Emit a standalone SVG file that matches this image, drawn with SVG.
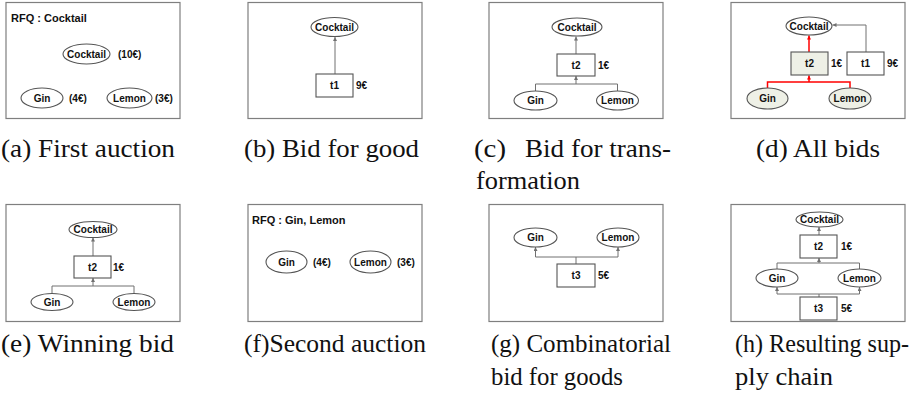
<svg xmlns="http://www.w3.org/2000/svg" width="917" height="397" viewBox="0 0 917 397">
<style>
.panel{fill:#fff;stroke:#7f7f7f;stroke-width:1.2}
.node{fill:#fff;stroke:#555;stroke-width:1.1}
.hl{fill:#eef0e6}
.lbl{font-family:"Liberation Sans",Arial,sans-serif;font-weight:bold;font-size:10px;fill:#111}
.mid{text-anchor:middle}
.rfq{font-family:"Liberation Sans",Arial,sans-serif;font-weight:bold;font-size:11px;fill:#111}
.cap{font-family:"Liberation Serif","Times New Roman",serif;font-size:25px;fill:#111}
.ln{fill:none;stroke:#707070;stroke-width:1}
.red{fill:none;stroke:#ff0000;stroke-width:1.5}
</style>
<defs>
<marker id="ag" markerUnits="userSpaceOnUse" markerWidth="6" markerHeight="6" refX="4" refY="2" orient="auto"><path d="M0,0 L4,2 L0,4 z" fill="#707070"/></marker>
<marker id="ar" markerUnits="userSpaceOnUse" markerWidth="6" markerHeight="6" refX="4" refY="2" orient="auto"><path d="M0,0 L4,2 L0,4 z" fill="#ff0000"/></marker>
</defs>
<rect width="917" height="397" fill="#fff"/>

<!-- panel frames -->
<g id="frames">
<rect class="panel" x="6" y="2.5" width="174" height="116"/>
<rect class="panel" x="248" y="2.5" width="174" height="116"/>
<rect class="panel" x="489" y="2.5" width="174" height="116"/>
<rect class="panel" x="731" y="2.5" width="174" height="116"/>
<rect class="panel" x="6" y="204.5" width="174" height="117"/>
<rect class="panel" x="248" y="204.5" width="174" height="117"/>
<rect class="panel" x="489" y="204.5" width="174" height="117"/>
<rect class="panel" x="731" y="204.5" width="174" height="117"/>
</g>

<!-- connectors -->
<g id="connectors">
<path class="ln" d="M335,74 V37" marker-end="url(#ag)"/>
<path class="ln" d="M576,54 V36.5" marker-end="url(#ag)"/>
<path class="ln" d="M535.5,91 V84 H617.5 V91"/>
<path class="ln" d="M576,84 V76" marker-end="url(#ag)"/>
<path class="ln" d="M866,52 V25 H832.5" marker-end="url(#ag)"/>
<path class="red" d="M809,52 V35.5" marker-end="url(#ar)"/>
<path class="red" d="M767.5,88 V82 H850 V88"/>
<path class="red" d="M809,82 V75.5" marker-end="url(#ar)"/>
<path class="ln" d="M93,256 V237.5" marker-end="url(#ag)"/>
<path class="ln" d="M52,293.5 V286 H134 V293.5"/>
<path class="ln" d="M93,286 V278" marker-end="url(#ag)"/>
<path class="ln" d="M576,264 V257"/>
<path class="ln" d="M535.5,257 H618"/>
<path class="ln" d="M535.5,257 V247" marker-end="url(#ag)"/>
<path class="ln" d="M618,257 V247" marker-end="url(#ag)"/>
<path class="ln" d="M819,235 V227" marker-end="url(#ag)"/>
<path class="ln" d="M777,269 V263 H859.5 V269"/>
<path class="ln" d="M819,263 V258" marker-end="url(#ag)"/>
<path class="ln" d="M819,297 V294"/>
<path class="ln" d="M777,294 H859.5"/>
<path class="ln" d="M777,294 V287" marker-end="url(#ag)"/>
<path class="ln" d="M859.5,294 V287" marker-end="url(#ag)"/>
</g>

<!-- (a) -->
<g id="a-rfq"><text class="rfq" x="11" y="22">RFQ : Cocktail</text></g>
<g id="a-cocktail"><ellipse class="node" cx="86.5" cy="54" rx="23.5" ry="10"/><text class="lbl mid" x="86.5" y="57.5">Cocktail</text><text class="lbl" x="118" y="57.5">(10€)</text></g>
<g id="a-gin"><ellipse class="node" cx="42" cy="98" rx="21" ry="10"/><text class="lbl mid" x="42" y="101.5">Gin</text><text class="lbl" x="69" y="101.5">(4€)</text></g>
<g id="a-lemon"><ellipse class="node" cx="129.5" cy="98" rx="22.5" ry="10"/><text class="lbl mid" x="129.5" y="101.5">Lemon</text><text class="lbl" x="155" y="101.5">(3€)</text></g>

<!-- (b) -->
<g id="b-cocktail"><ellipse class="node" cx="334.5" cy="27" rx="23.5" ry="9.5"/><text class="lbl mid" x="334.5" y="30.5">Cocktail</text></g>
<g id="b-t1"><rect class="node" x="316" y="74" width="37" height="23"/><text class="lbl mid" x="334.5" y="89">t1</text><text class="lbl" x="356" y="89">9€</text></g>

<!-- (c) -->
<g id="c-cocktail"><ellipse class="node" cx="577" cy="27" rx="25" ry="9"/><text class="lbl mid" x="577" y="30.5">Cocktail</text></g>
<g id="c-t2"><rect class="node" x="557" y="54" width="38" height="22"/><text class="lbl mid" x="576" y="68.5">t2</text><text class="lbl" x="598" y="68.5">1€</text></g>
<g id="c-gin"><ellipse class="node" cx="535.5" cy="100.5" rx="21.5" ry="9.5"/><text class="lbl mid" x="535.5" y="104">Gin</text></g>
<g id="c-lemon"><ellipse class="node" cx="617.5" cy="100.5" rx="21" ry="9.5"/><text class="lbl mid" x="617.5" y="104">Lemon</text></g>

<!-- (d) -->
<g id="d-cocktail"><ellipse class="node" cx="809" cy="26" rx="23" ry="9"/><text class="lbl mid" x="809" y="29.5">Cocktail</text></g>
<g id="d-t2"><rect class="node hl" x="791" y="52" width="37" height="23"/><text class="lbl mid" x="809.5" y="67">t2</text><text class="lbl" x="831" y="67">1€</text></g>
<g id="d-t1"><rect class="node" x="847" y="52" width="37" height="23"/><text class="lbl mid" x="865.5" y="67">t1</text><text class="lbl" x="887" y="67">9€</text></g>
<g id="d-gin"><ellipse class="node hl" cx="767.5" cy="98.5" rx="20.5" ry="10.5"/><text class="lbl mid" x="767.5" y="102">Gin</text></g>
<g id="d-lemon"><ellipse class="node hl" cx="850" cy="98.5" rx="21" ry="10.5"/><text class="lbl mid" x="850" y="102">Lemon</text></g>

<!-- (e) -->
<g id="e-cocktail"><ellipse class="node" cx="93" cy="229.5" rx="24" ry="8"/><text class="lbl mid" x="93" y="233">Cocktail</text></g>
<g id="e-t2"><rect class="node" x="74" y="256" width="37" height="22"/><text class="lbl mid" x="92.5" y="270.5">t2</text><text class="lbl" x="113" y="270.5">1€</text></g>
<g id="e-gin"><ellipse class="node" cx="52" cy="302" rx="21" ry="8.5"/><text class="lbl mid" x="52" y="305.5">Gin</text></g>
<g id="e-lemon"><ellipse class="node" cx="134" cy="302" rx="21" ry="8.5"/><text class="lbl mid" x="134" y="305.5">Lemon</text></g>

<!-- (f) -->
<g id="f-rfq"><text class="rfq" x="252" y="224">RFQ : Gin, Lemon</text></g>
<g id="f-gin"><ellipse class="node" cx="286.5" cy="262" rx="20.5" ry="11"/><text class="lbl mid" x="286.5" y="265.5">Gin</text><text class="lbl" x="313" y="265.5">(4€)</text></g>
<g id="f-lemon"><ellipse class="node" cx="370.5" cy="262" rx="20.5" ry="11"/><text class="lbl mid" x="370.5" y="265.5">Lemon</text><text class="lbl" x="397" y="265.5">(3€)</text></g>

<!-- (g) -->
<g id="g-gin"><ellipse class="node" cx="535.5" cy="237.5" rx="21.5" ry="9.5"/><text class="lbl mid" x="535.5" y="241">Gin</text></g>
<g id="g-lemon"><ellipse class="node" cx="618" cy="237.5" rx="21" ry="9.5"/><text class="lbl mid" x="618" y="241">Lemon</text></g>
<g id="g-t3"><rect class="node" x="557" y="264" width="38" height="23"/><text class="lbl mid" x="576" y="279">t3</text><text class="lbl" x="598" y="279">5€</text></g>

<!-- (h) -->
<g id="h-cocktail"><ellipse class="node" cx="819.5" cy="219.5" rx="23.5" ry="7.5"/><text class="lbl mid" x="819.5" y="223">Cocktail</text></g>
<g id="h-t2"><rect class="node" x="800" y="235" width="37" height="23"/><text class="lbl mid" x="818.5" y="250">t2</text><text class="lbl" x="841" y="250">1€</text></g>
<g id="h-gin"><ellipse class="node" cx="777" cy="278" rx="21" ry="9"/><text class="lbl mid" x="777" y="281.5">Gin</text></g>
<g id="h-lemon"><ellipse class="node" cx="859.5" cy="278" rx="21.5" ry="9"/><text class="lbl mid" x="859.5" y="281.5">Lemon</text></g>
<g id="h-t3"><rect class="node" x="800" y="297" width="37" height="23"/><text class="lbl mid" x="818.5" y="312">t3</text><text class="lbl" x="841" y="312">5€</text></g>

<!-- captions -->
<g id="captions">
<text class="cap" x="1" y="157" textLength="174" lengthAdjust="spacingAndGlyphs">(a) First auction</text>
<text class="cap" x="244" y="157" textLength="175" lengthAdjust="spacingAndGlyphs">(b) Bid for good</text>
<text class="cap" x="474" y="157" textLength="32" lengthAdjust="spacingAndGlyphs">(c)</text>
<text class="cap" x="525" y="157" textLength="146" lengthAdjust="spacingAndGlyphs">Bid for trans-</text>
<text class="cap" x="476" y="189" textLength="104" lengthAdjust="spacingAndGlyphs">formation</text>
<text class="cap" x="756" y="157" textLength="124" lengthAdjust="spacingAndGlyphs">(d) All bids</text>
<text class="cap" x="1" y="352" textLength="173" lengthAdjust="spacingAndGlyphs">(e) Winning bid</text>
<text class="cap" x="244" y="352" textLength="182" lengthAdjust="spacingAndGlyphs">(f)Second auction</text>
<text class="cap" x="491" y="352" textLength="180" lengthAdjust="spacingAndGlyphs">(g) Combinatorial</text>
<text class="cap" x="491" y="385" textLength="132" lengthAdjust="spacingAndGlyphs">bid for goods</text>
<text class="cap" x="735" y="352" textLength="174" lengthAdjust="spacingAndGlyphs">(h) Resulting sup-</text>
<text class="cap" x="735" y="385" textLength="98" lengthAdjust="spacingAndGlyphs">ply chain</text>
</g>
</svg>
